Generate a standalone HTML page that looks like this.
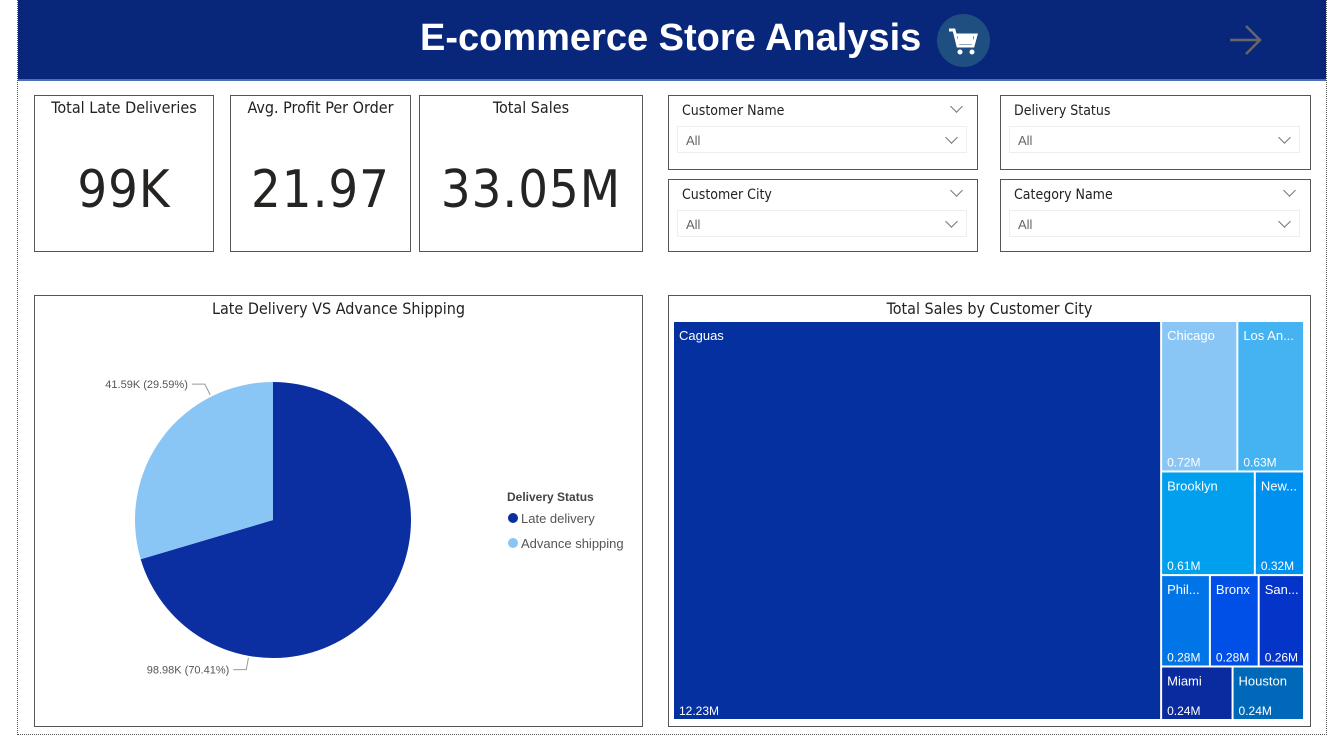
<!DOCTYPE html>
<html><head><meta charset="utf-8">
<style>
body{margin:0;width:1342px;height:737px;background:#fff;font-family:"Liberation Sans",sans-serif;position:relative;overflow:hidden}
.abs{position:absolute}
.card{position:absolute;border:1px solid #555;background:#fff;box-sizing:border-box}
.kt{position:absolute;top:2px;left:0;right:0;text-align:center;font-size:16px;color:#222;font-family:"DejaVu Sans Condensed","Liberation Sans",sans-serif}
.kv{position:absolute;top:64px;left:0;right:0;text-align:center;font-size:52px;color:#252423;font-family:"DejaVu Sans Condensed","Liberation Sans",sans-serif;letter-spacing:1px}
.sl-t{position:absolute;left:13px;top:7px;font-size:14px;color:#222;font-family:"DejaVu Sans Condensed","Liberation Sans",sans-serif}
.sl-b{position:absolute;left:8px;right:10px;top:30px;height:27px;border:1px solid #eee;box-sizing:border-box}
.sl-b span{position:absolute;left:8px;top:6px;font-size:13px;color:#666}
.chev{position:absolute;width:8px;height:8px;border-right:1px solid #777;border-bottom:1px solid #777;transform:rotate(45deg)}
.ct{position:absolute;top:3px;left:0;right:0;text-align:center;font-size:16px;color:#222;font-family:"DejaVu Sans Condensed","Liberation Sans",sans-serif}
</style></head><body>
<div class="abs" style="left:17px;top:0;width:1308px;height:734px;border:1px dotted #555;border-top:none"></div>
<div class="abs" style="left:18px;top:0;width:1308px;height:79px;background:#08267a;border-bottom:2px solid #4a6fb5"></div>
<div class="abs" style="left:420px;top:17px;font-size:38px;font-weight:bold;color:#fff">E-commerce Store Analysis</div>
<div class="abs" style="left:937px;top:14px;width:53px;height:53px;border-radius:50%;background:#1f4f80">
<svg width="53" height="53"><path d="M12 16 h5 l4 16 h15 l3 -11 h-20" fill="none" stroke="#fff" stroke-width="3"/><rect x="21" y="22" width="15" height="8" fill="#fff"/><circle cx="23" cy="38" r="2.5" fill="#fff"/><circle cx="35" cy="38" r="2.5" fill="#fff"/></svg></div>
<svg class="abs" style="left:1228px;top:24px" width="36" height="34"><path d="M2 16 H32 M18 2 L32 16 L18 30" fill="none" stroke="#666" stroke-width="2.5"/></svg>

<div class="card" style="left:34px;top:95px;width:180px;height:157px"><div class="kt">Total Late Deliveries</div><div class="kv">99K</div></div>
<div class="card" style="left:230px;top:95px;width:181px;height:157px"><div class="kt">Avg. Profit Per Order</div><div class="kv">21.97</div></div>
<div class="card" style="left:419px;top:95px;width:224px;height:157px"><div class="kt">Total Sales</div><div class="kv">33.05M</div></div>

<div class="card" style="left:668px;top:95px;width:310px;height:75px"><div class="sl-t">Customer Name</div><div class="chev" style="right:16px;top:6px"></div><div class="sl-b"><span>All</span><div class="chev" style="right:10px;top:6px"></div></div></div>
<div class="card" style="left:1000px;top:95px;width:311px;height:75px"><div class="sl-t">Delivery Status</div><div class="sl-b"><span>All</span><div class="chev" style="right:10px;top:6px"></div></div></div>
<div class="card" style="left:668px;top:179px;width:310px;height:73px"><div class="sl-t">Customer City</div><div class="chev" style="right:16px;top:6px"></div><div class="sl-b"><span>All</span><div class="chev" style="right:10px;top:6px"></div></div></div>
<div class="card" style="left:1000px;top:179px;width:311px;height:73px"><div class="sl-t">Category Name</div><div class="chev" style="right:16px;top:6px"></div><div class="sl-b"><span>All</span><div class="chev" style="right:10px;top:6px"></div></div></div>

<div class="card" style="left:34px;top:295px;width:609px;height:432px"><div class="ct">Late Delivery VS Advance Shipping</div></div>
<svg class="abs" id="pie" style="left:0;top:0" width="660" height="737"></svg>

<div class="card" style="left:668px;top:295px;width:643px;height:432px"><div class="ct">Total Sales by Customer City</div></div>
<svg class="abs" id="tree" style="left:0;top:0" width="1342" height="737"></svg>

<script>
const pieCats=["Late delivery","Advance shipping"];
const pieVals=[98.98,41.59];
const pieLabels=["98.98K (70.41%)","41.59K (29.59%)"];
const pieColors=["#0b2fa0","#8ac6f5"];

const cities=["Caguas","Chicago","Los An...","Brooklyn","New...","Phil...","Bronx","San...","Miami","Houston"];
const sales=[12.23,0.72,0.63,0.61,0.32,0.28,0.28,0.26,0.24,0.24];
const salesLabels=["12.23M","0.72M","0.63M","0.61M","0.32M","0.28M","0.28M","0.26M","0.24M","0.24M"];
const rowGroups=[[1,2],[3,4],[5,6,7],[8,9]];
const treeColors=["#0530a0","#8ac6f5","#45b2f2","#00a0ee","#0090f0","#0075e8","#0050e8","#0535c8","#0a2aa0","#0068b8"];

const NS="http://www.w3.org/2000/svg";
function mk(p,t,a){const e=document.createElementNS(NS,t);for(const k in a)e.setAttribute(k,a[k]);p.appendChild(e);return e;}

// pie
const pie=document.getElementById('pie');
const cx=273,cy=520,R=138;
const tot=pieVals.reduce((a,b)=>a+b,0);
function pt(a,r){return [cx+r*Math.sin(a),cy-r*Math.cos(a)];}
let a0=0;
pieVals.forEach((v,i)=>{
  const a1=a0+v/tot*2*Math.PI;
  const [x0,y0]=pt(a0,R),[x1,y1]=pt(a1,R);
  const s=mk(pie,'path',{d:`M${cx},${cy}L${x0},${y0}A${R},${R} 0 ${a1-a0>Math.PI?1:0} 1 ${x1},${y1}Z`,fill:pieColors[i]});
  
  
  const am=a0+(a1-a0)*0.75;
  const [lx,ly]=pt(am,R+2),[ex,ey]=pt(am,R+14);
  const left=ex<cx;
  const hx=left?ex-13:ex+13;
  const ln=mk(pie,'path',{d:`M${lx},${ly}L${ex},${ey}L${hx},${ey}`,fill:'none',stroke:'#999'});
  
  
  const t=mk(pie,'text',{x:left?hx-4:hx+4,y:ey+4,'font-size':'11','fill':'#555','text-anchor':left?'end':'start'});
  t.textContent=pieLabels[i];
  
  
  a0=a1;
});
const lt=mk(pie,'text',{x:507,y:501,'font-size':'12','font-weight':'bold',fill:'#444'});
lt.textContent="Delivery Status";


pieCats.forEach((c,i)=>{
  const g=mk(pie,'g',{});
  
  
  mk(g,'circle',{cx:513,cy:518+i*25,r:5,fill:pieColors[i]});
  const t=mk(g,'text',{x:521,y:523+i*25,'font-size':'13',fill:'#555'});t.textContent=c;
});

// treemap
const tree=document.getElementById('tree');
const X0=673,Y0=321,W=631,H=399;
const total=sales.reduce((a,b)=>a+b,0);
function cell(i,x,y,w,h){
  const g=mk(tree,'g',{});
  
  
  mk(g,'rect',{x:x+1,y:y+1,width:w-2,height:h-2,fill:treeColors[i]});
  const t1=mk(g,'text',{x:x+6,y:y+19,'font-size':'13',fill:'#fff'});t1.textContent=cities[i];
  const t2=mk(g,'text',{x:x+6,y:y+h-5,'font-size':'12',fill:'#fff'});t2.textContent=salesLabels[i];
}
const cw=W*sales[0]/total;
cell(0,X0,Y0,cw,H);
const rest=total-sales[0];
let y=Y0;
rowGroups.forEach(g=>{
  const s=g.reduce((a,i)=>a+sales[i],0);
  const h=H*s/rest;
  let x=X0+cw;
  g.forEach(i=>{const w=(W-cw)*sales[i]/s;cell(i,x,y,w,h);x+=w;});
  y+=h;
});
</script>
</body></html>
